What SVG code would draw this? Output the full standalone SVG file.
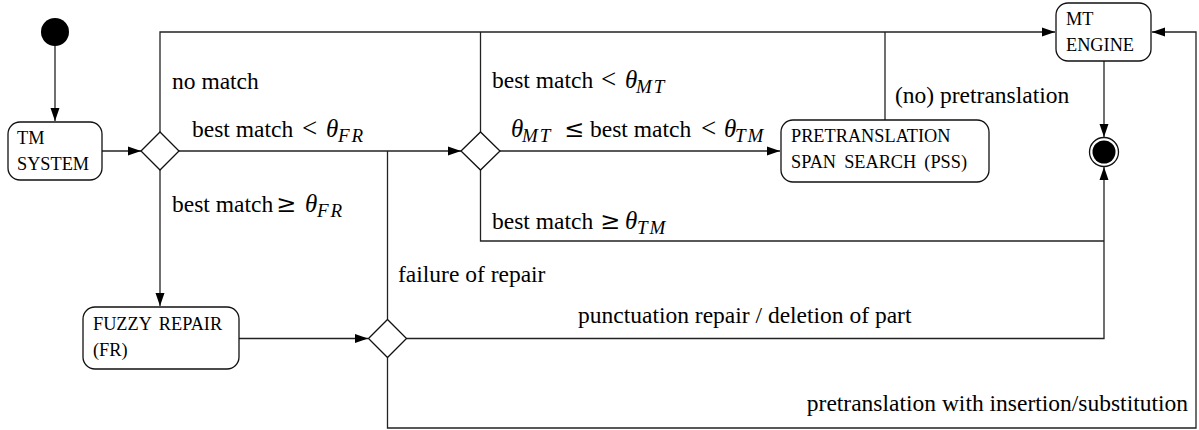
<svg xmlns="http://www.w3.org/2000/svg" width="1199" height="430" viewBox="0 0 1199 430">
<defs>
<marker id="arr" markerUnits="userSpaceOnUse" markerWidth="14" markerHeight="10" refX="13" refY="5" orient="auto">
<path d="M0,0.5 L13,5 L0,9.5 z" fill="#000"/>
</marker>
<style>
.ln{fill:none;stroke:#222;stroke-width:1.3}
.node{fill:#fff;stroke:#111;stroke-width:1.3}
.nt{font-family:'Liberation Serif','Times New Roman',serif;font-size:18.3px;fill:#000}
.lb{font-family:'Liberation Serif','Times New Roman',serif;font-size:23.5px;fill:#000}
.it{font-style:italic;font-size:25px}
.sub{font-style:italic;font-size:19px;letter-spacing:2px}
.op{font-size:27px}
.rel{font-family:'DejaVu Serif',serif;font-size:24px}
</style>
</defs>
<rect width="1199" height="430" fill="#fff"/>
<g id="connectors">
<path class="ln" d="M55,46 V121" marker-end="url(#arr)"/>
<path class="ln" d="M102,151 H141" marker-end="url(#arr)"/>
<path class="ln" d="M160,132 V32 H1055" marker-end="url(#arr)"/>
<path class="ln" d="M480.5,132 V32"/>
<path class="ln" d="M885,120 V32"/>
<path class="ln" d="M179,151 H461" marker-end="url(#arr)"/>
<path class="ln" d="M160,170 V306" marker-end="url(#arr)"/>
<path class="ln" d="M239,338.5 H368" marker-end="url(#arr)"/>
<path class="ln" d="M387.5,319.5 V151"/>
<path class="ln" d="M406.5,338.5 H1104 V167" marker-end="url(#arr)"/>
<path class="ln" d="M387.5,357.5 V428 H1196 V32 H1152" marker-end="url(#arr)"/>
<path class="ln" d="M500,151 H780" marker-end="url(#arr)"/>
<path class="ln" d="M480.5,170 V241 H1104"/>
<path class="ln" d="M1104,61 V137" marker-end="url(#arr)"/>
</g>
<g id="labels">
<text class="lb" x="172" y="89">no match</text>
<text class="lb" y="137"><tspan x="192">best match</tspan><tspan x="302" class="op">&lt;</tspan><tspan x="326" class="it">θ</tspan><tspan x="338" dy="5" class="sub">FR</tspan></text>
<text class="lb" y="212"><tspan x="172">best match</tspan><tspan x="276" class="rel">≥</tspan><tspan x="305" class="it">θ</tspan><tspan x="317" dy="5" class="sub">FR</tspan></text>
<text class="lb" y="88"><tspan x="492">best match</tspan><tspan x="601" class="op">&lt;</tspan><tspan x="625" class="it">θ</tspan><tspan x="636" dy="5" class="sub">MT</tspan></text>
<text class="lb" y="137"><tspan x="511" class="it">θ</tspan><tspan x="522" dy="5" class="sub">MT</tspan><tspan x="564" dy="-5" class="rel">≤</tspan><tspan x="590">best match</tspan><tspan x="701" class="op">&lt;</tspan><tspan x="724" class="it">θ</tspan><tspan x="735" dy="5" class="sub">TM</tspan></text>
<text class="lb" y="229"><tspan x="492">best match</tspan><tspan x="600" class="rel">≥</tspan><tspan x="625" class="it">θ</tspan><tspan x="637" dy="5" class="sub">TM</tspan></text>
<text class="lb" x="895" y="103">(no) pretranslation</text>
<text class="lb" x="398" y="282">failure of repair</text>
<text class="lb" x="578" y="323">punctuation repair / deletion of part</text>
<text class="lb" x="1188" y="411" text-anchor="end">pretranslation with insertion/substitution</text>
</g>
<g id="start"><circle cx="55" cy="32" r="14" fill="#000"/></g>
<g id="tm-system">
<rect class="node" x="8" y="122" width="94" height="58" rx="12"/>
<text class="nt" x="17" y="144">TM</text>
<text class="nt" x="17" y="170">SYSTEM</text>
</g>
<g id="decision1"><path class="node" d="M141,151 L160,132 L179,151 L160,170 z"/></g>
<g id="decision2"><path class="node" d="M461,151 L480.5,132 L500,151 L480.5,170 z"/></g>
<g id="decision3"><path class="node" d="M368.5,338.5 L387.5,319.5 L406.5,338.5 L387.5,357.5 z"/></g>
<g id="fuzzy-repair">
<rect class="node" x="83" y="307" width="156" height="62" rx="12"/>
<text class="nt" x="93" y="330" word-spacing="3">FUZZY REPAIR</text>
<text class="nt" x="93" y="356">(FR)</text>
</g>
<g id="pss">
<rect class="node" x="781" y="120" width="208" height="62" rx="12"/>
<text class="nt" x="791" y="142">PRETRANSLATION</text>
<text class="nt" x="791" y="168" word-spacing="3.5">SPAN SEARCH (PSS)</text>
</g>
<g id="mt-engine">
<rect class="node" x="1056" y="3" width="95" height="58" rx="12"/>
<text class="nt" x="1066" y="25">MT</text>
<text class="nt" x="1066" y="51">ENGINE</text>
</g>
<g id="end">
<circle cx="1104" cy="152" r="14.5" fill="#fff" stroke="#111" stroke-width="1.3"/>
<circle cx="1104" cy="152" r="11.5" fill="#000"/>
</g>
</svg>
